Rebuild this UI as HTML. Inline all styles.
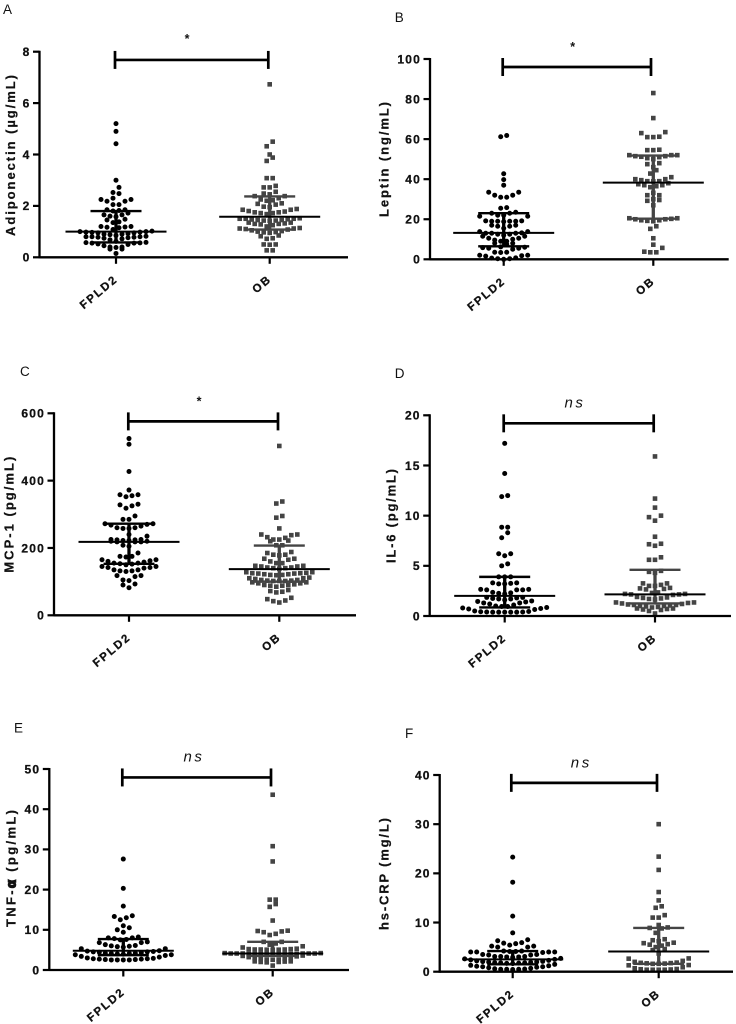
<!DOCTYPE html>
<html lang="en">
<head>
<meta charset="utf-8">
<title>Adipokine and cytokine dot plots: FPLD2 vs OB</title>
<style>
html,body{margin:0;padding:0;background:#fff;width:736px;height:1024px;overflow:hidden}
svg{display:block;font-family:"Liberation Sans",Arial,sans-serif;filter:blur(.3px)}
</style>
</head>
<body>
<svg id="figure" xmlns="http://www.w3.org/2000/svg" width="736" height="1024" viewBox="0 0 736 1024"></svg>
<script>
const categories = ['FPLD2', 'OB'];

const adiponectinTicks = [0, 2, 4, 6, 8];
const adiponectinFPLD2 = [
  .15,.32,.32,
  .38,.4,.4,.45,.5,.52,.55,.55,.56,.57,.58,
  .62,.68,.72,.74,.76,.78,.78,.8,.8,.8,.82,
  .85,.88,.9,.9,.92,.95,.95,.97,.98,.98,1,1,1.02,
  1.08,1.15,1.17,1.18,1.2,1.2,
  1.35,1.38,1.45,1.48,
  1.58,1.6,1.65,1.65,1.72,
  1.8,1.82,1.85,1.85,
  2.05,2.05,
  2.18,2.18,2.25,2.25,2.3,
  2.48,2.52,
  2.72,3.0,4.42,4.9,5.2];
const adiponectinOB = [
  .27,.27,
  .49,.5,.5,
  .72,.74,.82,.85,
  .95,.97,.98,1.0,1.02,1.05,1.08,1.1,1.12,1.12,1.14,
  1.2,1.25,1.28,1.3,1.3,1.32,1.35,1.35,
  1.42,1.43,1.43,1.45,1.45,1.47,1.48,1.5,1.5,1.5,1.52,
  1.68,1.72,1.72,1.75,1.75,1.78,1.8,1.85,1.85,1.88,
  1.95,1.97,2.05,2.08,2.1,
  2.2,2.22,2.25,2.3,2.38,2.38,
  2.45,2.48,2.55,
  2.72,2.72,2.78,
  3.08,3.08,3.75,3.88,4.0,4.32,4.5,6.73];
const adiponectinMedian = [1.0, 1.58];
const adiponectinLow = [0.58, 1.08];
const adiponectinHigh = [1.8, 2.37];

const leptinTicks = [0, 20, 40, 60, 80, 100];
const leptinFPLD2 = [
  0,.3,.3,.6,.7,1.6,1.8,2,2,
  3.4,3.5,3.5,5,5.5,5.5,5.8,6,6.2,
  7.5,8,8,9,9,9.6,10,
  10.5,10.5,11.5,11.5,12,12.5,12.5,13,13,13,13.2,
  13.8,13.8,15.5,16.5,16.5,
  17,17,18.8,19,19,19,19,19.2,19.2,
  21.5,21.5,22,22,23,23,23.5,
  25.5,25.8,
  31,31,32,32,33.5,33.5,
  37,39.8,42.7,61.2,61.8];
const leptinOB = [
  3.5,3.5,3.8,5.7,
  7.3,10.5,15.2,16.5,
  19,19.2,19.5,19.5,20,20,20.2,20.5,20.5,
  27,29.2,29.6,30,
  32,32,33.2,
  36,36.5,37,37,37.5,38,
  38.9,39,39,39.5,40,40,41,
  42.8,44.5,
  46,47.5,48,
  50,50.5,51,51.2,51.5,51.5,52,52,52,
  54.5,54.5,54.7,
  61,61,61.2,63,63.5,
  70.5,83];
const leptinMedian = [13.2, 38.3];
const leptinLow = [6.5, 20.3];
const leptinHigh = [23, 51.8];

const mcpTicks = [0, 200, 400, 600];
const mcpFPLD2 = [
  82,90,93,
  103,105,115,118,118,
  130,132,132,135,135,140,142,142,145,145,
  150,152,153,155,155,158,160,162,165,165,
  173,175,175,185,
  205,208,
  218,218,218,220,220,222,222,224,224,225,225,
  235,240,
  258,258,260,260,265,268,270,272,272,
  285,285,295,
  318,325,328,330,
  352,355,358,358,
  372,427,508,525];
const mcpOB = [
  38,42,44,48,52,
  68,70,72,75,
  85,88,88,90,90,92,95,95,98,98,
  102,102,102,103,103,105,105,108,110,110,112,
  119,120,120,122,122,124,124,125,125,126,128,128,
  138,140,140,142,142,145,145,147,147,
  155,155,160,165,168,168,
  178,180,180,185,188,
  208,208,
  220,222,225,225,230,232,
  238,240,240,258,290,295,332,338,503];
const mcpMedian = [218, 137];
const mcpLow = [153, 100];
const mcpHigh = [272, 207];

const il6Ticks = [0, 5, 10, 15, 20];
const il6FPLD2 = [
  .38,.38,.38,.38,.38,.4,.4,.42,.45,.5,.65,.7,.75,.8,.85,
  .95,.95,1.0,1.1,1.2,1.3,1.3,1.4,1.45,1.5,
  1.6,1.7,1.7,1.75,1.8,1.85,1.85,
  2.2,2.25,2.3,2.35,
  2.6,2.6,2.6,2.65,2.65,
  3.2,3.2,3.25,3.3,3.3,
  3.9,3.9,3.9,
  5,5.2,6,6.2,6.2,
  7.8,8.3,8.85,8.85,
  11.9,12,14.2,17.2];
const il6OB = [
  .25,.5,.6,.65,.7,.75,.75,
  .85,.9,.95,1.0,1.0,1.05,1.1,1.1,1.15,1.2,1.25,1.3,1.35,1.35,
  1.65,1.7,1.75,1.8,1.85,1.9,
  2.1,2.15,2.15,2.2,2.2,2.3,2.35,
  2.65,2.7,2.75,2.8,3.0,3.0,3.1,
  3.25,3.25,
  4.3,4.4,4.5,
  5.6,5.6,5.85,
  7,7.15,7.2,7.9,
  9.5,9.85,10,10.8,11.7,15.9];
const il6Median = [2.0, 2.15];
const il6Low = [0.85, 1.25];
const il6High = [3.9, 4.6];

const tnfTicks = [0, 10, 20, 30, 40, 50];
const tnfFPLD2 = [
  2.5,2.5,2.5,2.5,2.6,2.6,2.7,2.7,2.8,2.8,2.9,3.0,3.2,3.4,3.6,3.8,3.8,
  3.95,4,4.1,4.1,4.2,4.2,4.3,4.4,4.5,4.5,4.6,4.7,4.8,5.3,5.3,
  5.7,5.8,5.9,6,6.1,6.3,6.8,6.8,7,
  7.5,7.6,7.8,8,8,8.2,
  9.4,10,10.5,11,
  12.5,13,13.3,13.5,
  15.9,20.3,27.6];
const tnfOB = [
  1.1,1.9,2,2,2.1,2.15,2.15,
  2.55,2.6,2.6,2.7,2.8,3,3,3.2,3.4,3.5,3.6,
  3.95,3.95,4,4,4,4,4,4.05,4.05,4.1,4.1,4.1,4.1,4.1,4.1,4.2,4.2,
  5.05,5.05,5.05,5.1,5.1,5.1,5.2,5.2,5.3,5.6,5.9,
  6.3,6.6,7,7,
  8.7,9,9.4,9.6,9.7,9.78,
  12.3,15.7,16.4,
  17.5,17.5,27,30.8,43.6];
const tnfMedian = [4.8, 4.1];
const tnfLow = [3.7, 3.5];
const tnfHigh = [7.7, 7.0];

const crpTicks = [0, 10, 20, 30, 40];
const crpFPLD2 = [
  .45,.5,.5,.5,.55,.6,.7,.8,.9,1,1,1.1,1.2,1.3,1.5,
  1.65,1.7,1.75,1.8,1.8,1.85,1.9,1.95,2,2.05,2.1,2.2,2.3,2.4,2.5,2.6,2.7,
  2.9,3,3,3.1,3.1,3.1,3.4,3.4,3.5,3.5,
  3.9,4,4,4,4,4.1,4.1,4.2,4.2,
  5,5,5.2,5.2,5.4,5.7,5.8,5.9,
  6.3,6.5,7.9,11.3,18.2,23.3];
const crpOB = [
  .4,.4,.4,.4,.45,.5,.55,.7,.9,1.3,1.35,
  1.6,1.6,1.65,1.7,1.75,1.8,1.85,2,2.2,2.65,2.7,
  3.7,4.4,4.6,
  5,5.3,5.5,5.6,5.8,5.9,
  6.2,6.4,6.6,7.9,
  8.8,8.9,9,9.5,
  11,11,11.5,13,13.3,14.5,16.2,20.7,23.4,30];
const crpMedian = [2.5, 4.1];
const crpLow = [1.5, 1.6];
const crpHigh = [4.2, 8.9];

const panels = [
  {key:'adiponectin', letter:'A', lx:3, ly:14, ax:39.5, y0:257.3, yTop:51.7, xEnd:348, cats:[116,269.7], max:8, bins:[5.6,5.6],
   ticks:adiponectinTicks, series:[adiponectinFPLD2, adiponectinOB], med:adiponectinMedian, low:adiponectinLow, high:adiponectinHigh,
   title:'Adiponectin (µg/mL)', tx:15, tTop:75, tBot:236, bracket:7.68, bx:[115,268.3], sig:'*', sx:187, sy:43},
  {key:'leptin', letter:'B', lx:394.7, ly:22, ax:430, y0:259.3, yTop:59, xEnd:728.7, cats:[503.7,653.3], max:100, bins:[5.6,5.6],
   ticks:leptinTicks, series:[leptinFPLD2, leptinOB], med:leptinMedian, low:leptinLow, high:leptinHigh,
   title:'Leptin (ng/mL)', tx:388.5, tTop:102, tBot:217, bracket:96, bx:[502.7,651], sig:'*', sx:572.7, sy:51},
  {key:'mcp1', letter:'C', lx:20, ly:376, ax:54, y0:615.3, yTop:413.3, xEnd:356, cats:[129,279.3], max:600, bins:[5.6,5.6],
   ticks:mcpTicks, series:[mcpFPLD2, mcpOB], med:mcpMedian, low:mcpLow, high:mcpHigh,
   title:'MCP-1 (pg/mL)', tx:13.5, tTop:456.7, tBot:572.7, bracket:576, bx:[128.3,278], sig:'*', sx:199, sy:405.5},
  {key:'il6', letter:'D', lx:394.7, ly:378, ax:429.7, y0:616, yTop:415.3, xEnd:731, cats:[504.7,655], max:20, bins:[5.6,5.6],
   ticks:il6Ticks, series:[il6FPLD2, il6OB], med:il6Median, low:il6Low, high:il6High,
   title:'IL-6 (pg/mL)', tx:395.5, tTop:469, tBot:563, bracket:19.2, bx:[503.7,653.7], sig:'ns', sx:575, sy:407.5},
  {key:'tnf', letter:'E', lx:14, ly:732.7, ax:49.3, y0:970, yTop:769, xEnd:349, cats:[123.3,272.7], max:50, bins:[5.6,4.4],
   ticks:tnfTicks, series:[tnfFPLD2, tnfOB], med:tnfMedian, low:tnfLow, high:tnfHigh,
   title:'TNF-α (pg/mL)', tx:15.5, tTop:810, tBot:927, bracket:47.9, bx:[122.3,271], sig:'ns', sx:194, sy:761.7},
  {key:'crp', letter:'F', lx:405, ly:738, ax:439.7, y0:971.7, yTop:775, xEnd:733, cats:[512.7,658.7], max:40, bins:[5.6,5.6],
   ticks:crpTicks, series:[crpFPLD2, crpOB], med:crpMedian, low:crpLow, high:crpHigh,
   title:'hs-CRP (mg/L)', tx:388.5, tTop:818, tBot:930, bracket:38.4, bx:[511.3,657], sig:'ns', sx:581.3, sy:767.3}
];

const NS = 'http://www.w3.org/2000/svg';
const INK = '#000';
const OB_INK = '#444';
const SLOT = 6;
const figure = document.getElementById('figure');

function node(parent, tag, attrs, text) {
  const el = document.createElementNS(NS, tag);
  for (const k in attrs) el.setAttribute(k, attrs[k]);
  if (text !== undefined) el.textContent = text;
  parent.appendChild(el);
  return el;
}

function swarm(values, yOf, binPx) {
  const sorted = values.slice().sort(function (a, b) { return a - b; });
  const out = [];
  let bin = [];
  function flush() {
    const n = bin.length;
    bin.forEach(function (v, i) {
      let slot;
      if (n % 2 === 1) {
        const step = Math.ceil(i / 2);
        slot = i === 0 ? 0 : (i % 2 === 1 ? -step : step);
      } else {
        const step = Math.floor(i / 2) + 0.5;
        slot = i % 2 === 0 ? -step : step;
      }
      out.push({ v: v, off: slot * SLOT });
    });
    bin = [];
  }
  sorted.forEach(function (v) {
    if (bin.length && yOf(bin[0]) - yOf(v) >= binPx) flush();
    bin.push(v);
  });
  flush();
  return out;
}

panels.forEach(function (p) {
  const yOf = function (v) { return p.y0 - (v / p.max) * (p.y0 - p.yTop); };

  const g = node(figure, 'g', {});
  
  

  const letter = node(g, 'text', { x: p.lx, y: p.ly, 'font-size': 13.5, fill: '#111' }, p.letter);
  
  

  // data points
  p.series.forEach(function (vals, s) {
    const group = node(g, 'g', {});
    
    
    swarm(vals, yOf, p.bins[s]).forEach(function (pt) {
      const cx = p.cats[s] + pt.off;
      const cy = yOf(pt.v);
      let mark;
      if (s === 0) {
        mark = node(group, 'circle', { cx: cx, cy: cy, r: 2.5, fill: INK });
      } else {
        mark = node(group, 'rect', { x: cx - 2.3, y: cy - 2.3, width: 4.6, height: 4.6, fill: OB_INK });
      }
      
      
    });
  });

  // median and interquartile bars
  categories.forEach(function (cat, s) {
    const c = p.cats[s];
    const col = s === 0 ? INK : OB_INK;
    const err = node(g, 'line', { x1: c, x2: c, y1: yOf(p.low[s]), y2: yOf(p.high[s]), stroke: col, 'stroke-width': 3.3 });
    
    
    [p.low[s], p.high[s]].forEach(function (v) {
      const cap = node(g, 'line', { x1: c - 25.5, x2: c + 25.5, y1: yOf(v), y2: yOf(v), stroke: col, 'stroke-width': 2.4 });
      
      
    });
    const med = node(g, 'line', { x1: c - 50.5, x2: c + 50.5, y1: yOf(p.med[s]), y2: yOf(p.med[s]), stroke: INK, 'stroke-width': 2 });
    
    
  });

  // axes
  const yAxis = node(g, 'line', { x1: p.ax, x2: p.ax, y1: p.yTop - 1, y2: p.y0 + 1, stroke: INK, 'stroke-width': 2.3 });
  
  
  const xAxis = node(g, 'line', { x1: p.ax, x2: p.xEnd, y1: p.y0, y2: p.y0, stroke: INK, 'stroke-width': 2.3 });
  
  

  p.ticks.forEach(function (t) {
    const yy = yOf(t);
    const tick = node(g, 'line', { x1: p.ax - 6.5, x2: p.ax, y1: yy, y2: yy, stroke: INK, 'stroke-width': 2.2 });
    
    
    const lab = node(g, 'text', { x: p.ax - 9, y: yy + 4.3, 'font-size': 12, 'font-weight': 'bold', 'text-anchor': 'end', 'letter-spacing': 1.2, fill: '#111', stroke: '#111', 'stroke-width': 0.3 }, String(t));
    
    
  });

  categories.forEach(function (cat, s) {
    const c = p.cats[s];
    const tick = node(g, 'line', { x1: c, x2: c, y1: p.y0, y2: p.y0 + 6.5, stroke: INK, 'stroke-width': 2.2 });
    
    
    const ax = c + 2.5;
    const ay = p.y0 + 23;
    const lab = node(g, 'text', { x: ax, y: ay, transform: 'rotate(-40 ' + ax + ' ' + ay + ')', 'font-size': 11.5, 'font-weight': 'bold', 'text-anchor': 'end', 'letter-spacing': 1.8, fill: '#111', stroke: '#111', 'stroke-width': 0.3 }, cat);
    
    
  });

  // y axis title
  const cy = (p.tTop + p.tBot) / 2;
  const title = node(g, 'text', {
    x: p.tx, y: cy, transform: 'rotate(-90 ' + p.tx + ' ' + cy + ')',
    'font-size': 13, 'font-weight': 'bold', 'text-anchor': 'middle',
    textLength: p.tBot - p.tTop, lengthAdjust: 'spacing', fill: '#111', stroke: '#111', 'stroke-width': 0.25
  });
  
  
  const alpha = p.title.indexOf('α');
  if (alpha >= 0) {
    node(title, 'tspan', {}, p.title.slice(0, alpha));
    node(title, 'tspan', { stroke: '#111', 'stroke-width': 1.6 }, 'α');
    node(title, 'tspan', {}, p.title.slice(alpha + 1));
  } else {
    title.textContent = p.title;
  }

  // significance bracket
  const by = yOf(p.bracket);
  const bracket = node(g, 'g', { stroke: INK, 'stroke-width': 2.7 });
  
  
  node(bracket, 'line', { x1: p.bx[0], x2: p.bx[1], y1: by, y2: by });
  p.bx.forEach(function (bx) {
    node(bracket, 'line', { x1: bx, x2: bx, y1: by - 9, y2: by + 9 });
  });

  const sigAttrs = p.sig === '*'
    ? { x: p.sx, y: p.sy, 'font-size': 12.5, 'font-weight': 'bold', 'text-anchor': 'middle', fill: '#111' }
    : { x: p.sx, y: p.sy, 'font-size': 15, 'font-style': 'italic', 'text-anchor': 'middle', 'letter-spacing': 2.6, fill: '#111' };
  const sig = node(g, 'text', sigAttrs, p.sig);
  
  
});
</script>
</body>
</html>
